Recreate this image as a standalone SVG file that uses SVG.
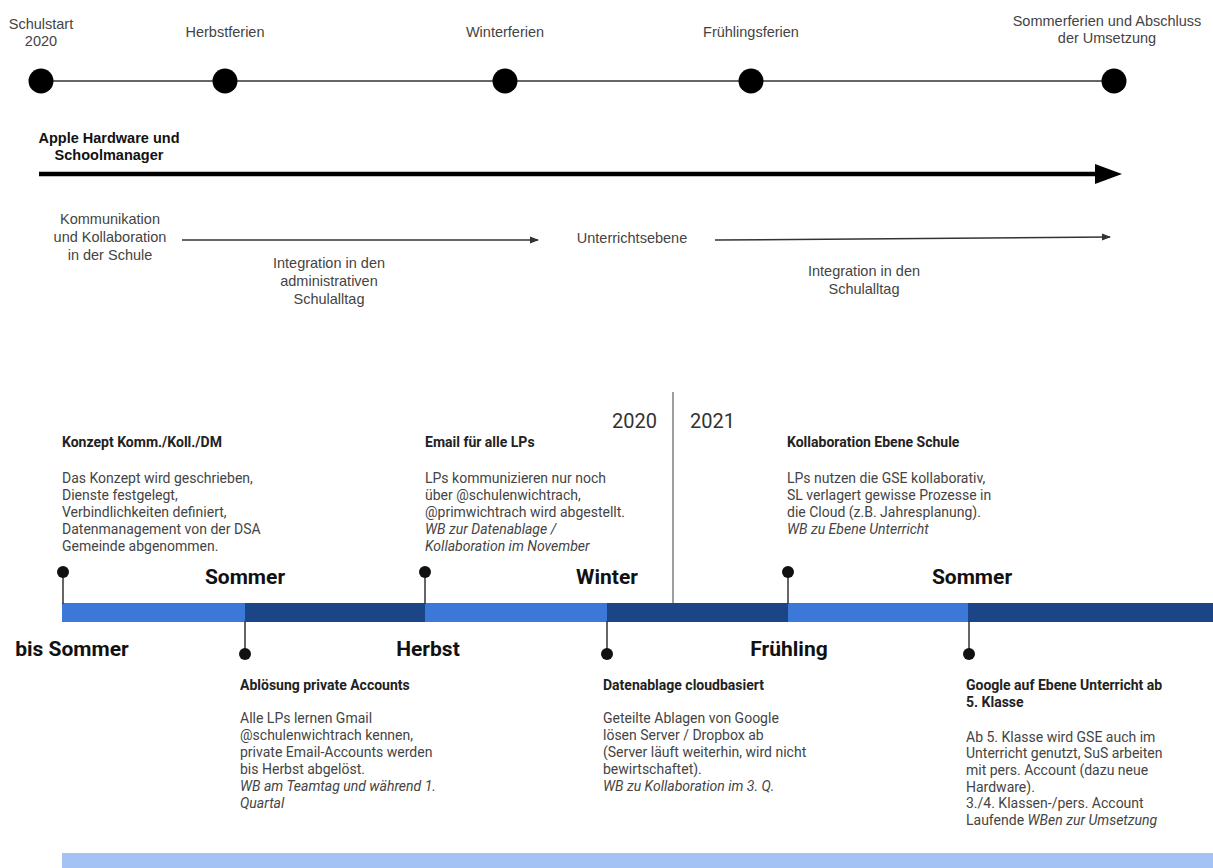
<svg xmlns="http://www.w3.org/2000/svg" width="1213" height="868" viewBox="0 0 1213 868">
<defs>
<marker id="ah" markerWidth="9" markerHeight="8" refX="8" refY="4" orient="auto" markerUnits="userSpaceOnUse"><path d="M0,0.5 L9,4 L0,7.5 z" fill="#333"/></marker>
</defs>
<style>
.top{font-family:"Liberation Sans",Arial,sans-serif;font-size:14.5px;fill:#444;text-anchor:middle}
.topb{font-family:"Liberation Sans",Arial,sans-serif;font-size:14.5px;font-weight:bold;fill:#111;text-anchor:middle}
.t{font-family:Roboto,"Noto Sans",sans-serif;font-size:14px;fill:#444}
.tb{font-family:Roboto,"Noto Sans",sans-serif;font-size:14px;font-weight:bold;fill:#222}
.i{font-style:italic}
.season{font-family:Roboto,"Noto Sans",sans-serif;font-weight:bold;font-size:21px;fill:#111;text-anchor:middle}
.year{font-family:Roboto,"Noto Sans",sans-serif;font-size:20px;fill:#333}
.pin{stroke:#333;stroke-width:1.5}
.dot{fill:#111}
.ms{fill:#000}
.light{fill:#3c78d8}
.dark{fill:#1c4587}
</style>
<rect x="0" y="0" width="1213" height="868" fill="#fff"/>

<g id="connectors">
  <line x1="41" y1="81" x2="1114" y2="81" stroke="#333" stroke-width="1.5"/>
  <line x1="39" y1="174" x2="1097" y2="174" stroke="#000" stroke-width="4.5"/>
  <polygon points="1095,164 1122,174 1095,184" fill="#000"/>
  <line x1="182" y1="240" x2="538" y2="240" stroke="#333" stroke-width="1.5" marker-end="url(#ah)"/>
  <line x1="715" y1="240" x2="1110" y2="237" stroke="#333" stroke-width="1.5" marker-end="url(#ah)"/>
</g>

<g id="ms-schulstart"><circle cx="41" cy="81" r="12.5" class="ms"/><text class="top" x="41" y="29">Schulstart</text><text class="top" x="41" y="46">2020</text></g>
<g id="ms-herbstferien"><circle cx="225" cy="81" r="12.5" class="ms"/><text class="top" x="225" y="37">Herbstferien</text></g>
<g id="ms-winterferien"><circle cx="505" cy="81" r="12.5" class="ms"/><text class="top" x="505" y="37">Winterferien</text></g>
<g id="ms-fruehlingsferien"><circle cx="751" cy="81" r="12.5" class="ms"/><text class="top" x="751" y="37">Frühlingsferien</text></g>
<g id="ms-sommerferien"><circle cx="1114" cy="81" r="12.5" class="ms"/><text class="top" x="1107" y="26">Sommerferien und Abschluss</text><text class="top" x="1107" y="43">der Umsetzung</text></g>

<g id="apple"><text class="topb" x="109" y="143">Apple Hardware und</text><text class="topb" x="109" y="160">Schoolmanager</text></g>
<g id="kommunikation"><text class="top" x="110" y="224">Kommunikation</text><text class="top" x="110" y="242">und Kollaboration</text><text class="top" x="110" y="260">in der Schule</text></g>
<g id="integration-admin"><text class="top" x="329" y="268">Integration in den</text><text class="top" x="329" y="286">administrativen</text><text class="top" x="329" y="304">Schulalltag</text></g>
<g id="unterrichtsebene"><text class="top" x="632" y="243">Unterrichtsebene</text></g>
<g id="integration-schule"><text class="top" x="864" y="276">Integration in den</text><text class="top" x="864" y="294">Schulalltag</text></g>

<g id="year-divider">
  <line x1="673" y1="392" x2="673" y2="604" stroke="#9e9e9e" stroke-width="2"/>
  <text class="year" x="657" y="428" text-anchor="end">2020</text>
  <text class="year" x="690" y="428">2021</text>
</g>

<g id="bar">
  <rect x="62" y="603" width="183" height="19" class="light"/>
  <rect x="245" y="603" width="180" height="19" class="dark"/>
  <rect x="425" y="603" width="182" height="19" class="light"/>
  <rect x="607" y="603" width="181" height="19" class="dark"/>
  <rect x="788" y="603" width="180" height="19" class="light"/>
  <rect x="968" y="603" width="245" height="19" class="dark"/>
  <rect x="62" y="853" width="1151" height="15" fill="#a4c2f4"/>
</g>

<g id="seasons">
  <text class="season" x="245" y="584">Sommer</text>
  <text class="season" x="607" y="584">Winter</text>
  <text class="season" x="972" y="584">Sommer</text>
  <text class="season" x="72" y="656">bis Sommer</text>
  <text class="season" x="428" y="656">Herbst</text>
  <text class="season" x="789" y="656">Frühling</text>
</g>

<g id="ev-konzept">
  <line class="pin" x1="63" y1="572" x2="63" y2="604"/><circle class="dot" cx="63" cy="572" r="6"/>
  <text class="tb" x="62" y="447">Konzept Komm./Koll./DM</text>
  <text class="t" x="62" y="483">Das Konzept wird geschrieben,</text>
  <text class="t" x="62" y="500">Dienste festgelegt,</text>
  <text class="t" x="62" y="517">Verbindlichkeiten definiert,</text>
  <text class="t" x="62" y="534">Datenmanagement von der DSA</text>
  <text class="t" x="62" y="551">Gemeinde abgenommen.</text>
</g>

<g id="ev-email">
  <line class="pin" x1="425" y1="572" x2="425" y2="604"/><circle class="dot" cx="425" cy="572" r="6"/>
  <text class="tb" x="425" y="447">Email für alle LPs</text>
  <text class="t" x="425" y="483">LPs kommunizieren nur noch</text>
  <text class="t" x="425" y="500">über @schulenwichtrach,</text>
  <text class="t" x="425" y="517">@primwichtrach wird abgestellt.</text>
  <text class="t i" x="425" y="534">WB zur Datenablage /</text>
  <text class="t i" x="425" y="551">Kollaboration im November</text>
</g>

<g id="ev-kollaboration">
  <line class="pin" x1="788" y1="572" x2="788" y2="604"/><circle class="dot" cx="788" cy="572" r="6"/>
  <text class="tb" x="787" y="447">Kollaboration Ebene Schule</text>
  <text class="t" x="787" y="483">LPs nutzen die GSE kollaborativ,</text>
  <text class="t" x="787" y="500">SL verlagert gewisse Prozesse in</text>
  <text class="t" x="787" y="517">die Cloud (z.B. Jahresplanung).</text>
  <text class="t i" x="787" y="534">WB zu Ebene Unterricht</text>
</g>

<g id="ev-abloesung">
  <line class="pin" x1="245" y1="621" x2="245" y2="654"/><circle class="dot" cx="245" cy="654" r="6"/>
  <text class="tb" x="240" y="690">Ablösung private Accounts</text>
  <text class="t" x="240" y="723">Alle LPs lernen Gmail</text>
  <text class="t" x="240" y="740">@schulenwichtrach kennen,</text>
  <text class="t" x="240" y="757">private Email-Accounts werden</text>
  <text class="t" x="240" y="774">bis Herbst abgelöst.</text>
  <text class="t i" x="240" y="791">WB am Teamtag und während 1.</text>
  <text class="t i" x="240" y="808">Quartal</text>
</g>

<g id="ev-datenablage">
  <line class="pin" x1="607" y1="621" x2="607" y2="654"/><circle class="dot" cx="607" cy="654" r="6"/>
  <text class="tb" x="603" y="690">Datenablage cloudbasiert</text>
  <text class="t" x="603" y="723">Geteilte Ablagen von Google</text>
  <text class="t" x="603" y="740">lösen Server / Dropbox ab</text>
  <text class="t" x="603" y="757">(Server läuft weiterhin, wird nicht</text>
  <text class="t" x="603" y="774">bewirtschaftet).</text>
  <text class="t i" x="603" y="791">WB zu Kollaboration im 3. Q.</text>
</g>

<g id="ev-google">
  <line class="pin" x1="969" y1="621" x2="969" y2="654"/><circle class="dot" cx="969" cy="654" r="6"/>
  <text class="tb" x="966" y="690">Google auf Ebene Unterricht ab</text>
  <text class="tb" x="966" y="707">5. Klasse</text>
  <text class="t" x="966" y="742">Ab 5. Klasse wird GSE auch im</text>
  <text class="t" x="966" y="758">Unterricht genutzt, SuS arbeiten</text>
  <text class="t" x="966" y="775">mit pers. Account (dazu neue</text>
  <text class="t" x="966" y="792">Hardware).</text>
  <text class="t" x="966" y="808">3./4. Klassen-/pers. Account</text>
  <text class="t" x="966" y="825">Laufende <tspan class="i">WBen zur Umsetzung</tspan></text>
</g>
</svg>
